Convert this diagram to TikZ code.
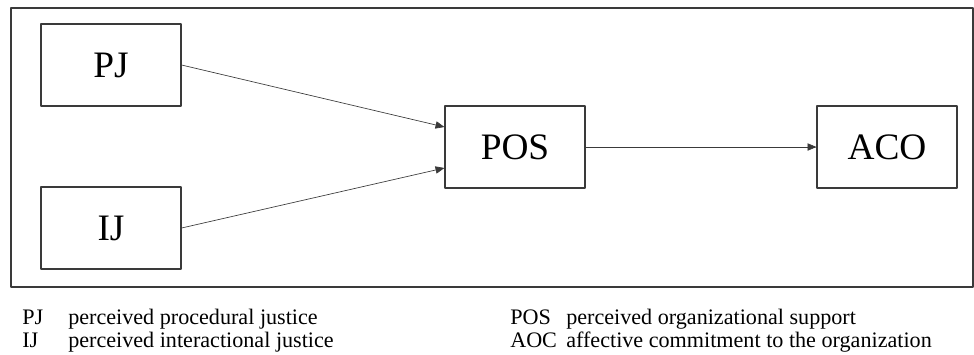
\documentclass[tikz,border=0pt]{standalone}
\usepackage{fontspec}
\setmainfont{Liberation Serif}
\usetikzlibrary{arrows}
\definecolor{linegray}{HTML}{3A3A3A}

\begin{document}
\begin{tikzpicture}[line cap=round,line join=round,>=triangle 45,x=0.75pt,y=-0.75pt]
\tikzset{varbox/.style={draw=linegray,line width=0.9pt,minimum width=105pt,minimum height=61.5pt,inner sep=0pt,font=\fontsize{28}{30}\selectfont},
  legend/.style={anchor=base west,inner sep=0pt,font=\fontsize{16.6}{18}\selectfont}}
\useasboundingbox (0,0) rectangle (974,354);
\draw [linegray,line width=1pt] (11,8) rectangle (973,287);
\node[varbox] (pj) at (111,65) {PJ};
\node[varbox] (ij) at (111,228) {IJ};
\node[varbox] (pos) at (515,147) {POS};
\node[varbox] (aco) at (887,147) {ACO};
\draw [->,linegray,line width=0.5pt] (pj.east) -- (pos.west|-0,127);
\draw [->,linegray,line width=0.5pt] (ij.east) -- (pos.west|-0,168);
\draw [->,linegray,line width=0.5pt] (pos) -- (aco);
% legend
\node[legend] (lpj) at (22,324) {PJ};
\node[legend] (tpj) at (68,324) {perceived procedural justice};
\node[legend] (lij) at (22,347) {IJ};
\node[legend] (tij) at (68,347) {perceived interactional justice};
\node[legend] (lpos) at (510,324) {POS};
\node[legend] (tpos) at (566,324) {perceived organizational support};
\node[legend] (laoc) at (510,347) {AOC};
\node[legend] (taoc) at (566,347) {affective commitment to the organization};
\end{tikzpicture}
\end{document}
